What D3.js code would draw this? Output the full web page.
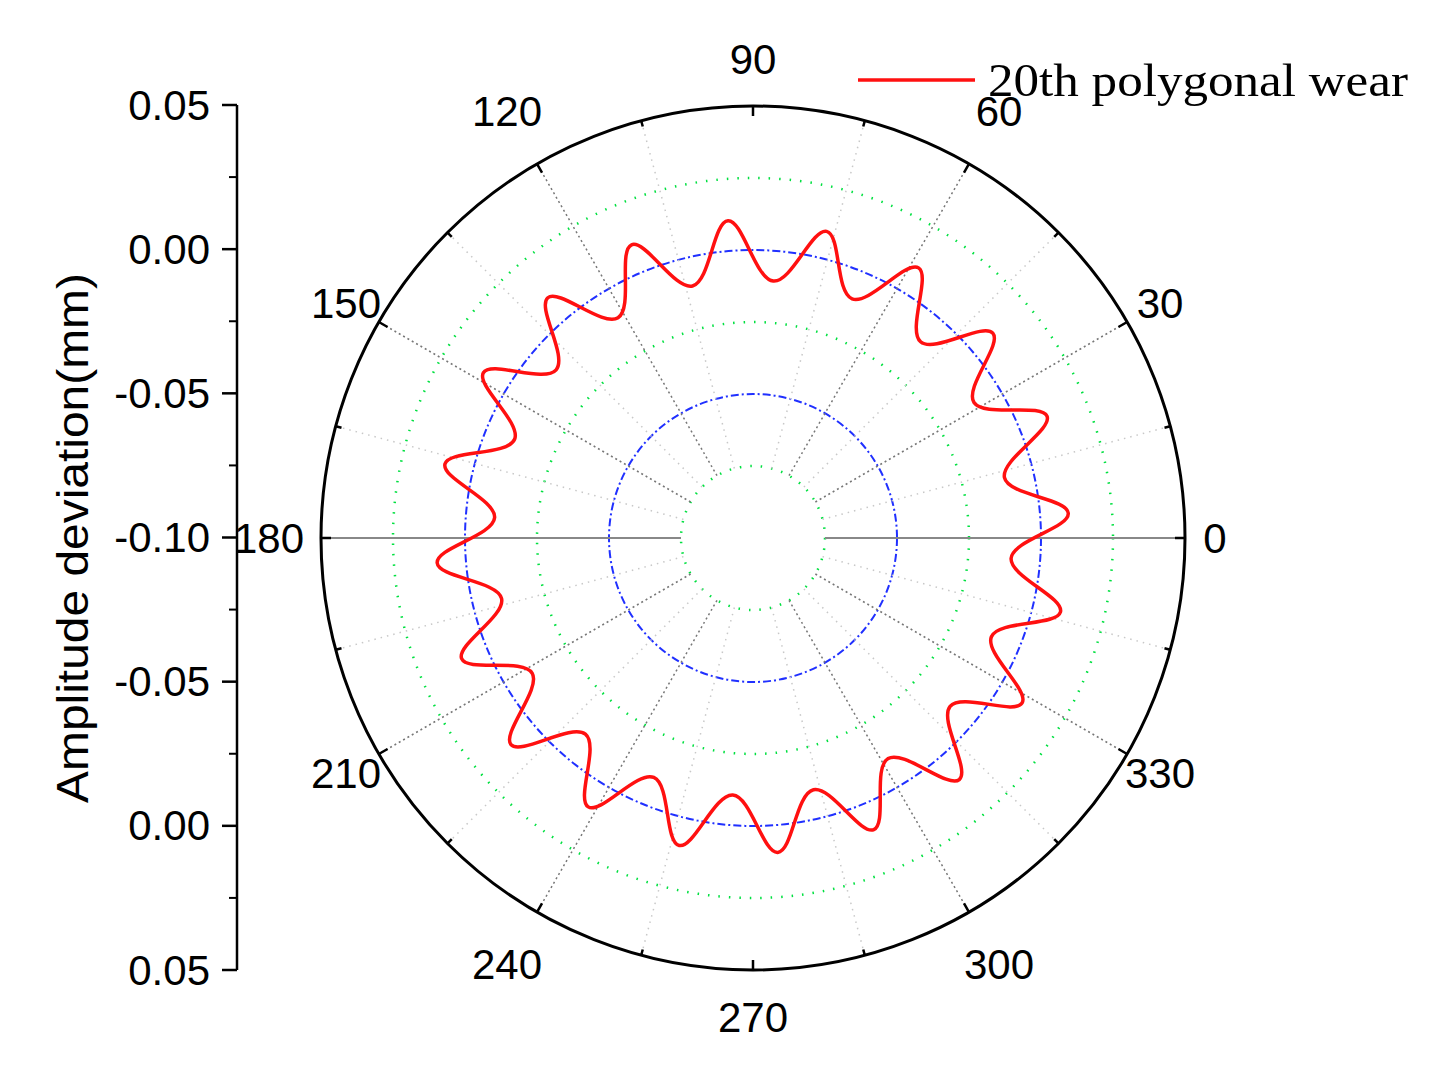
<!DOCTYPE html>
<html><head><meta charset="utf-8">
<script src="https://cdn.jsdelivr.net/npm/d3@7/dist/d3.min.js"></script>
<style>body{margin:0;background:#fff}</style></head>
<body><svg id="c" width="1446" height="1082"></svg>
<script>
// Extremes of the red curve: angle (deg), amplitude deviation (mm)
const curveAngles = [4.5,13.5,22.5,31.5,40.5,49.5,58.5,67.5,76.5,85.5,94.5,103.5,112.5,121.5,130.5,139.5,148.5,157.5,166.5,175.5,184.5,193.5,202.5,211.5,220.5,229.5,238.5,247.5,256.5,265.5,274.5,283.5,292.5,301.5,310.5,319.5,328.5,337.5,346.5,355.5];
const curveValues = [0.0098,-0.0102,0.0105,-0.0100,0.0095,-0.0104,0.0100,-0.0101,0.0095,-0.0105,0.0105,-0.0100,0.0102,-0.0103,0.0097,-0.0101,0.0098,-0.0104,0.0100,-0.0100,0.0100,-0.0102,0.0095,-0.0101,0.0105,-0.0104,0.0095,-0.0100,0.0098,-0.0105,0.0095,-0.0101,0.0096,-0.0102,0.0103,-0.0100,0.0096,-0.0104,0.0098,-0.0101];
const radialTicks = [-0.10,-0.05,0.00,0.05];
const radialMinor = [-0.075,-0.025,0.025];
const angleTicks = [0,30,60,90,120,150,180,210,240,270,300,330];
const angleMinor = [15,45,75,105,135,165,195,225,255,285,315,345];
const axisTicks = [0.05,0.00,-0.05,-0.10,-0.05,0.00,0.05];

const svg = d3.select("#c");
const cx=753, cy=538;
const r = d3.scaleLinear().domain([-0.10,0.05]).range([0,432]);
const R = r(0.05);
const g = svg.append("g").attr("transform",`translate(${cx},${cy})`);
const rad = a => a*Math.PI/180;
const pt = (a,rr)=>[rr*Math.cos(rad(a)), -rr*Math.sin(rad(a))];

g.selectAll(".mc").data(radialMinor).join("circle").attr("r",d=>r(d)).attr("fill","none")
 .attr("stroke","#00e040").attr("stroke-width",2.5).attr("stroke-dasharray","1.5 9");
g.selectAll(".bc").data([-0.05,0.00]).join("circle").attr("r",d=>r(d)).attr("fill","none")
 .attr("stroke","#2030ff").attr("stroke-width",2).attr("stroke-dasharray","8 3 2 3");
g.selectAll(".ms").data(angleMinor).join("line")
 .attr("x1",d=>pt(d,r(-0.075))[0]).attr("y1",d=>pt(d,r(-0.075))[1])
 .attr("x2",d=>pt(d,R)[0]).attr("y2",d=>pt(d,R)[1])
 .attr("stroke","#c8c8c8").attr("stroke-width",1.5).attr("stroke-dasharray","1.5 5");
g.selectAll(".js").data(angleTicks.filter(a=>a%90!==0)).join("line")
 .attr("x1",d=>pt(d,r(-0.075))[0]).attr("y1",d=>pt(d,r(-0.075))[1])
 .attr("x2",d=>pt(d,R)[0]).attr("y2",d=>pt(d,R)[1])
 .attr("stroke","#777").attr("stroke-width",1.5).attr("stroke-dasharray","2 3");
g.selectAll(".hs").data([0,180]).join("line")
 .attr("x1",d=>pt(d,r(-0.075))[0]).attr("y1",0)
 .attr("x2",d=>pt(d,R)[0]).attr("y2",0)
 .attr("stroke","#888").attr("stroke-width",2);
g.append("circle").attr("r",R).attr("fill","none").attr("stroke","#000").attr("stroke-width",3);
g.selectAll(".ot").data(angleTicks.concat(angleMinor)).join("line")
 .attr("x1",d=>pt(d,R)[0]).attr("y1",d=>pt(d,R)[1])
 .attr("x2",d=>pt(d,R-(d%30?6:10))[0]).attr("y2",d=>pt(d,R-(d%30?6:10))[1])
 .attr("stroke","#000").attr("stroke-width",2.5);
const lr = d => d===0?30:d===180?52:d%90===0?47:d%60===0?(d===60||d===120||d===240||d===300?492:0):0;
g.selectAll(".al").data(angleTicks).join("text")
 .attr("x",d=>pt(d,d%90===0?R+lr(d):(d%60===0?492:470))[0])
 .attr("y",d=>pt(d,d%90===0?R+lr(d):(d%60===0?492:470))[1])
 .attr("text-anchor","middle").attr("dominant-baseline","central")
 .attr("font-family","Liberation Sans, Arial").attr("font-size",42).text(d=>d);

const data = curveAngles.map((a,i)=>[rad(90-a), r(curveValues[i])]);
const line = d3.lineRadial().angle(d=>d[0]).radius(d=>d[1]).curve(d3.curveCardinalClosed.tension(-0.1));
g.append("path").attr("d",line(data)).attr("fill","none").attr("stroke","#ff1010").attr("stroke-width",3.5);

const y = d3.scalePoint().domain(d3.range(axisTicks.length)).range([105,970]);
const ax = svg.append("g");
ax.append("line").attr("x1",237).attr("x2",237).attr("y1",105).attr("y2",970).attr("stroke","#000").attr("stroke-width",2.5);
const step = (970-105)/6;
ax.selectAll(".t").data(d3.range(7)).join("line").attr("x1",222).attr("x2",237)
 .attr("y1",i=>y(i)).attr("y2",i=>y(i)).attr("stroke","#000").attr("stroke-width",2.5);
ax.selectAll(".mt").data(d3.range(6)).join("line").attr("x1",229).attr("x2",237)
 .attr("y1",i=>y(i)+step/2).attr("y2",i=>y(i)+step/2).attr("stroke","#000").attr("stroke-width",2);
ax.selectAll(".tl").data(d3.range(7)).join("text").attr("x",210).attr("y",i=>y(i))
 .attr("text-anchor","end").attr("dominant-baseline","central")
 .attr("font-family","Liberation Sans, Arial").attr("font-size",42).text(i=>axisTicks[i].toFixed(2));
svg.append("text").attr("transform","translate(72,538) rotate(-90)").attr("text-anchor","middle")
 .attr("dominant-baseline","central").attr("font-family","Liberation Sans, Arial").attr("font-size",44)
 .attr("textLength",530).attr("lengthAdjust","spacingAndGlyphs")
 .text("Amplitude deviation(mm)");

svg.append("line").attr("x1",858).attr("x2",975).attr("y1",80).attr("y2",80).attr("stroke","#ff1010").attr("stroke-width",3.5);
svg.append("text").attr("x",988).attr("y",80).attr("dominant-baseline","central")
 .attr("font-family","Liberation Serif, Times New Roman").attr("font-size",46)
 .attr("textLength",420).attr("lengthAdjust","spacingAndGlyphs").text("20th polygonal wear");
</script></body></html>
